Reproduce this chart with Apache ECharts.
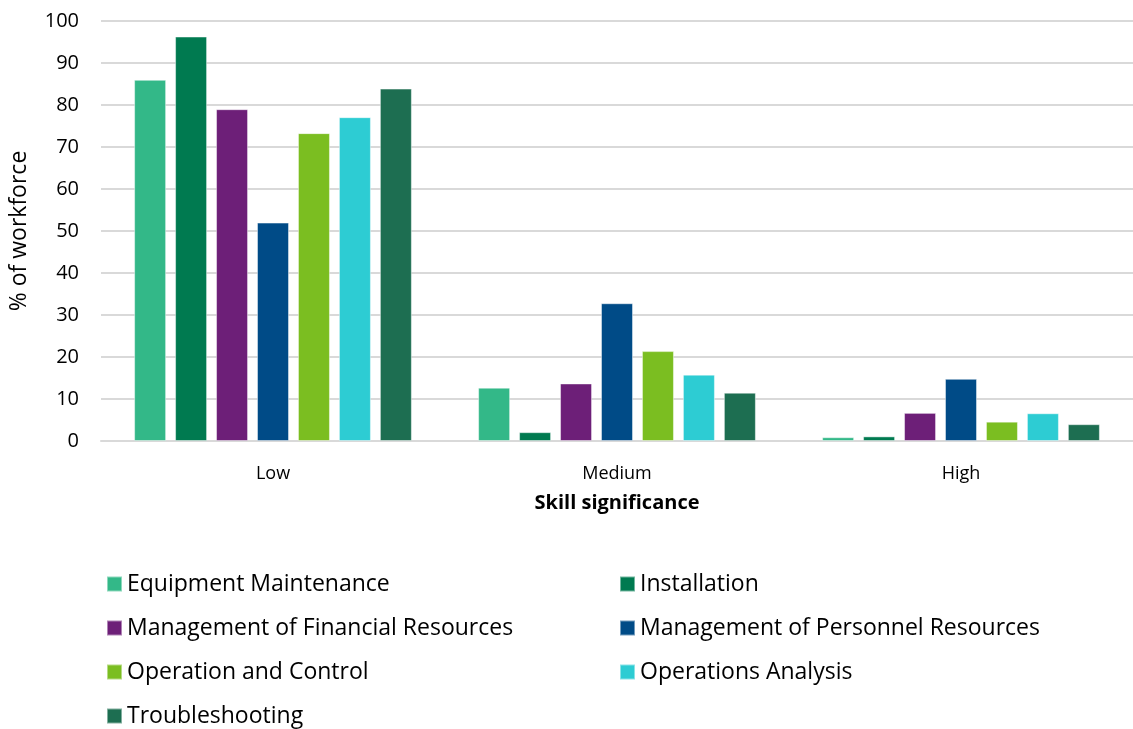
<!DOCTYPE html>
<html>
<head>
<meta charset="utf-8">
<script src="https://cdn.jsdelivr.net/npm/echarts@6/dist/echarts.min.js"></script>
<style>
  html, body { margin: 0; padding: 0; background: #fff; }
  #chart { width: 1133px; height: 729px; }
</style>
</head>
<body>
<div id="chart"></div>
<script>
const categories = ['Low', 'Medium', 'High']
const seriesNames = [
  'Equipment Maintenance',
  'Installation',
  'Management of Financial Resources',
  'Management of Personnel Resources',
  'Operation and Control',
  'Operations Analysis',
  'Troubleshooting'
]
const colors = ['#33b888', '#007a50', '#6d1f78', '#004b87', '#7bbe21', '#2dccd3', '#1d6e51']
const equipmentMaintenance = [86, 12.7, 0.9]
const installation = [96.3, 2.1, 1.1]
const financialResources = [79, 13.7, 6.7]
const personnelResources = [52, 32.8, 14.8]
const operationControl = [73.3, 21.4, 4.6]
const operationsAnalysis = [77.1, 15.8, 6.6]
const troubleshooting = [83.9, 11.5, 4.0]
const yTicks = [0, 100, 10]

const values = [equipmentMaintenance, installation, financialResources, personnelResources,
  operationControl, operationsAnalysis, troubleshooting]

const font = '"Open Sans", sans-serif'
const chart = echarts.init(document.getElementById('chart'), null, { renderer: 'canvas' })

const legendText = { fontFamily: font, fontSize: 23, lineHeight: 24, color: '#000' }

chart.setOption({
  backgroundColor: '#fff',
  animation: false,
  textStyle: { fontFamily: font, color: '#000' },
  grid: { left: 100, top: 21, width: 1041, height: 420 },
  legend: [
    {
      data: [seriesNames[0], seriesNames[2], seriesNames[4], seriesNames[6]],
      orient: 'vertical',
      left: 106, top: 572, height: 156, padding: 0,
      icon: 'rect', itemWidth: 15, itemHeight: 15, itemGap: 20,
      textStyle: legendText
    },
    {
      data: [seriesNames[1], seriesNames[3], seriesNames[5]],
      orient: 'vertical',
      left: 619, top: 572, height: 156, padding: 0,
      icon: 'rect', itemWidth: 15, itemHeight: 15, itemGap: 20,
      textStyle: legendText
    }
  ],
  xAxis: {
    type: 'category',
    data: categories,
    name: 'Skill significance',
    nameLocation: 'middle',
    nameGap: 52,
    nameTextStyle: { fontFamily: font, fontSize: 20, fontWeight: 'bold', color: '#000' },
    axisTick: { show: false },
    axisLine: { lineStyle: { color: '#d9d9d9', width: 2 } },
    axisLabel: { fontFamily: font, fontSize: 18, color: '#000', margin: 24 }
  },
  yAxis: {
    type: 'value',
    min: yTicks[0], max: yTicks[1], interval: yTicks[2],
    name: '% of workforce',
    nameLocation: 'middle',
    nameGap: 70,
    nameTextStyle: { fontFamily: font, fontSize: 23, color: '#000' },
    axisLine: { show: false },
    axisTick: { show: false },
    splitLine: { lineStyle: { color: '#d9d9d9', width: 2 } },
    axisLabel: { fontFamily: font, fontSize: 20, color: '#000', margin: 22 }
  },
  series: seriesNames.map((name, i) => ({
    name,
    type: 'bar',
    data: values[i],
    barWidth: 32,
    barGap: '28%',
    itemStyle: { color: colors[i], borderColor: 'rgba(255,255,255,0.45)', borderWidth: 1 }
  }))
})
</script>
</body>
</html>
